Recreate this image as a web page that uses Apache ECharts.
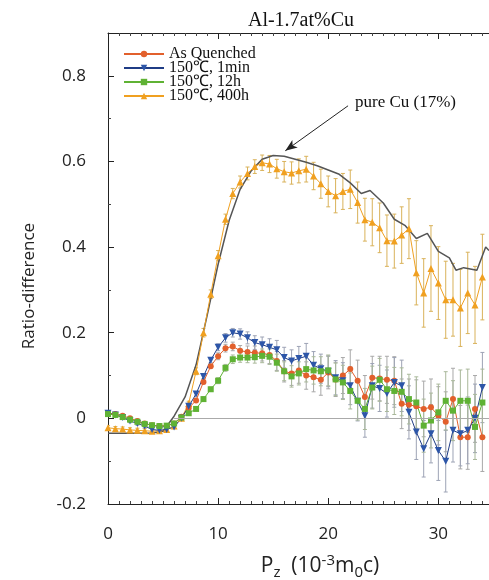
<!DOCTYPE html>
<html>
<head>
<meta charset="utf-8">
<script src="https://cdn.jsdelivr.net/npm/echarts@6/dist/echarts.min.js"></script>
<style>
  html, body { margin: 0; padding: 0; background: #fff; }
  #chart { width: 489px; height: 580px; }
</style>
</head>
<body>
<div id="chart"></div>
<script>
// momentum axis, 10^-3 m0c
var pz = [0, 0.67, 1.33, 2, 2.67, 3.33, 4, 4.67, 5.33, 6, 6.67, 7.33, 8, 8.67, 9.33, 10,
  10.67, 11.33, 12, 12.67, 13.33, 14, 14.67, 15.33, 16, 16.67, 17.33, 18, 18.67, 19.33, 20,
  20.67, 21.33, 22, 22.67, 23.33, 24, 24.67, 25.33, 26, 26.67, 27.33, 28, 28.67, 29.33, 30,
  30.67, 31.33, 32, 32.67, 33.33, 34];

var asQuenched = [0.012, 0.01, 0.006, 0, -0.006, -0.012, -0.016, -0.018, -0.018, -0.012, 0.004,
  0.024, 0.042, 0.085, 0.122, 0.145, 0.164, 0.168, 0.158, 0.155, 0.153, 0.152, 0.148, 0.134,
  0.11, 0.105, 0.112, 0.1, 0.096, 0.09, 0.107, 0.091, 0.1, 0.115, 0.088, 0.05, 0.095, 0.093,
  0.09, 0.088, 0.034, 0.032, 0.028, 0.022, 0.026, 0.006, -0.008, 0.045, -0.044, -0.044, 0.022, -0.044];
var asQuenchedErr = [0.004, 0.004, 0.004, 0.004, 0.004, 0.004, 0.004, 0.004, 0.004, 0.004, 0.004,
  0.004, 0.004, 0.004, 0.004, 0.008, 0.009, 0.01, 0.012, 0.014, 0.016, 0.018, 0.02, 0.022,
  0.025, 0.028, 0.03, 0.032, 0.034, 0.036, 0.038, 0.04, 0.042, 0.045, 0.048, 0.05, 0.05, 0.052,
  0.055, 0.056, 0.058, 0.06, 0.062, 0.065, 0.066, 0.068, 0.07, 0.072, 0.074, 0.075, 0.078, 0.08];

var min1 = [0.012, 0.008, 0.002, -0.006, -0.012, -0.018, -0.026, -0.028, -0.026, -0.02, 0,
  0.028, 0.057, 0.098, 0.136, 0.166, 0.188, 0.2, 0.197, 0.188, 0.177, 0.172, 0.166, 0.16,
  0.142, 0.134, 0.14, 0.145, 0.124, 0.116, 0.11, 0.095, 0.088, 0.076, 0.04, 0.006, 0.076, 0.07,
  0.058, 0.084, 0.076, 0.014, -0.032, -0.071, -0.036, -0.075, -0.1, -0.028, -0.036, -0.028, 0, 0.072];
var min1Err = [0.004, 0.004, 0.004, 0.004, 0.004, 0.004, 0.004, 0.004, 0.004, 0.004, 0.004,
  0.004, 0.005, 0.005, 0.006, 0.008, 0.01, 0.01, 0.012, 0.014, 0.016, 0.018, 0.02, 0.022,
  0.024, 0.026, 0.028, 0.03, 0.032, 0.034, 0.036, 0.04, 0.042, 0.044, 0.046, 0.05, 0.052, 0.054,
  0.055, 0.058, 0.06, 0.062, 0.064, 0.066, 0.068, 0.07, 0.072, 0.074, 0.075, 0.078, 0.08, 0.082];

var h12 = [0.01, 0.008, 0.003, -0.003, -0.008, -0.013, -0.016, -0.018, -0.017, -0.012, 0.002,
  0.012, 0.022, 0.045, 0.068, 0.088, 0.118, 0.138, 0.142, 0.142, 0.143, 0.146, 0.144, 0.13,
  0.11, 0.098, 0.105, 0.115, 0.112, 0.11, 0.112, 0.091, 0.084, 0.064, 0.041, 0.022, 0.072, 0.09,
  0.068, 0.064, 0.062, 0.045, 0.037, -0.017, -0.005, 0.014, 0.041, 0.018, 0.041, 0.041, -0.02, 0.037];
var h12Err = [0.004, 0.004, 0.004, 0.004, 0.004, 0.004, 0.004, 0.004, 0.004, 0.004, 0.004,
  0.004, 0.004, 0.005, 0.005, 0.007, 0.008, 0.01, 0.011, 0.012, 0.014, 0.016, 0.018, 0.02,
  0.022, 0.025, 0.027, 0.03, 0.032, 0.034, 0.036, 0.038, 0.04, 0.042, 0.045, 0.048, 0.05, 0.05,
  0.052, 0.055, 0.056, 0.058, 0.06, 0.062, 0.064, 0.066, 0.068, 0.07, 0.072, 0.074, 0.076, 0.078];

var h400 = [-0.022, -0.024, -0.025, -0.027, -0.028, -0.029, -0.03, -0.029, -0.026, -0.018, 0,
  0.035, 0.11, 0.2, 0.29, 0.38, 0.465, 0.525, 0.552, 0.572, 0.588, 0.597, 0.594, 0.583,
  0.576, 0.573, 0.578, 0.582, 0.566, 0.548, 0.53, 0.52, 0.53, 0.535, 0.504, 0.464, 0.458, 0.445,
  0.415, 0.414, 0.428, 0.443, 0.34, 0.293, 0.35, 0.316, 0.277, 0.277, 0.258, 0.293, 0.265, 0.33];
var h400Err = [0.005, 0.005, 0.005, 0.005, 0.005, 0.005, 0.005, 0.005, 0.005, 0.005, 0.005,
  0.005, 0.008, 0.01, 0.01, 0.012, 0.012, 0.012, 0.014, 0.015, 0.016, 0.018, 0.02, 0.022,
  0.024, 0.026, 0.028, 0.03, 0.032, 0.034, 0.036, 0.04, 0.042, 0.045, 0.048, 0.05, 0.055, 0.058,
  0.06, 0.063, 0.066, 0.07, 0.075, 0.08, 0.1, 0.085, 0.09, 0.085, 0.09, 0.095, 0.09, 0.1];

// pure Cu reference curve (no markers)
var pureCuX = [0, 2, 4, 5, 6, 7, 8, 9, 10, 11, 12, 13, 14, 15, 16, 17, 18, 19, 20, 21, 22, 23,
  23.8, 25, 26, 27, 28, 29, 30, 31, 31.6, 32.3, 33.5, 34.3, 34.6];
var pureCu = [-0.035, -0.035, -0.034, -0.03, 0.005, 0.05, 0.125, 0.24, 0.36, 0.462, 0.535, 0.578,
  0.605, 0.614, 0.612, 0.605, 0.598, 0.59, 0.58, 0.57, 0.55, 0.525, 0.532, 0.503, 0.465, 0.45,
  0.42, 0.432, 0.39, 0.375, 0.346, 0.352, 0.346, 0.4, 0.392];

var yTicks = [-0.2, 0, 0.2, 0.4, 0.6, 0.8];

function pairs(xs, ys) {
  return xs.map(function (x, i) { return [x, ys[i]]; });
}
function bars(xs, ys, es) {
  return xs.map(function (x, i) { return [x, ys[i] - es[i], ys[i] + es[i]]; });
}

function errRender(params, api) {
  var x = api.value(0);
  var lo = api.coord([x, api.value(1)]);
  var hi = api.coord([x, api.value(2)]);
  var w = 2;
  var st = { stroke: api.visual('color'), lineWidth: 1 };
  return {
    type: 'group',
    children: [
      { type: 'line', shape: { x1: lo[0], y1: lo[1], x2: hi[0], y2: hi[1] }, style: st },
      { type: 'line', shape: { x1: lo[0] - w, y1: lo[1], x2: lo[0] + w, y2: lo[1] }, style: st },
      { type: 'line', shape: { x1: hi[0] - w, y1: hi[1], x2: hi[0] + w, y2: hi[1] }, style: st }
    ]
  };
}

function errSeries(data, color) {
  return {
    type: 'custom',
    renderItem: errRender,
    data: data,
    encode: { x: 0, y: [1, 2] },
    itemStyle: { color: color },
    clip: true,
    silent: true,
    z: 1
  };
}

function dataSeries(name, ys, color, lineColor, symbol, size, rot) {
  return {
    name: name,
    type: 'line',
    data: pairs(pz, ys),
    symbol: symbol,
    symbolSize: size,
    symbolRotate: rot || 0,
    showAllSymbol: true,
    itemStyle: { color: color },
    lineStyle: { color: lineColor, width: 1 },
    clip: true,
    z: 3
  };
}

var chart = echarts.init(document.getElementById('chart'));

var axisCommon = {
  type: 'value',
  axisLine: { show: true, onZero: false, lineStyle: { color: '#222', width: 1 } },
  axisTick: { show: true, inside: true, length: 6, lineStyle: { color: '#222' } },
  minorTick: { show: true, length: 3, lineStyle: { color: '#444' } },
  splitLine: { show: false }
};

chart.setOption({
  animation: false,
  backgroundColor: '#fff',
  grid: { left: 108, right: 0, top: 33, bottom: 76 },
  legend: {
    data: ['As Quenched', '150\u2103, 1min', '150\u2103, 12h', '150\u2103, 400h'],
    orient: 'vertical',
    left: 118,
    top: 41,
    itemWidth: 40,
    itemHeight: 8,
    itemGap: -2,
    textStyle: { fontFamily: 'Liberation Serif, serif', fontSize: 16, color: '#111', lineHeight: 14 }
  },
  xAxis: [
    Object.assign({}, axisCommon, {
      min: 0, max: 34.6, interval: 10,
      minorTick: { show: true, splitNumber: 10, length: 3, lineStyle: { color: '#444' } },
      axisLabel: {
        margin: 22, fontFamily: 'Open Sans', fontSize: 17, color: '#222',
        showMaxLabel: false
      }
    }),
    Object.assign({}, axisCommon, {
      position: 'top',
      min: 0, max: 34.6, interval: 10,
      minorTick: { show: true, splitNumber: 10, length: 3, lineStyle: { color: '#444' } },
      axisLabel: { show: false }
    })
  ],
  yAxis: Object.assign({}, axisCommon, {
    min: yTicks[0], max: 0.9, interval: 0.2,
    minorTick: { show: true, splitNumber: 2, length: 3, lineStyle: { color: '#444' } },
    axisLabel: {
      margin: 22, fontFamily: 'Open Sans', fontSize: 17, color: '#222',
      showMaxLabel: false,
      formatter: function (v) { return Math.abs(v) < 1e-9 ? '0' : v.toFixed(1); }
    }
  }),
  graphic: [
    {
      type: 'text', x: 301, y: 21,
      style: { text: 'Al-1.7at%Cu', font: '20px "Liberation Serif", serif', fill: '#111',
        align: 'center', verticalAlign: 'middle' }
    },
    {
      type: 'text', x: 355, y: 103,
      style: { text: 'pure Cu (17%)', font: '17px "Liberation Serif", serif', fill: '#111',
        align: 'left', verticalAlign: 'middle' }
    },
    {
      type: 'text', x: 29, y: 286, rotation: Math.PI / 2,
      style: { text: 'Ratio-difference', font: '17px "Open Sans"', fill: '#222',
        align: 'center', verticalAlign: 'middle' }
    },
    {
      type: 'text', x: 320, y: 566,
      style: {
        text: '{n|P}{s|z}{n|  (10}{p|-3}{n|m}{s|0}{n|c)}',
        align: 'center', verticalAlign: 'middle',
        rich: {
          n: { font: '21px "Open Sans"', fill: '#222' },
          s: { font: '15px "Open Sans"', fill: '#222', padding: [13, 0, 0, 0] },
          p: { font: '15px "Open Sans"', fill: '#222', padding: [0, 0, 11, 0] }
        }
      }
    }
  ],
  series: [
    {
      name: 'pure Cu',
      type: 'line',
      data: pairs(pureCuX, pureCu),
      symbol: 'none',
      lineStyle: { color: '#555', width: 1.5 },
      z: 2,
      markLine: {
        silent: true,
        symbol: ['none', 'none'],
        lineStyle: { color: '#aaa', width: 1.2, type: 'solid' },
        label: { show: false },
        data: [[{ coord: [6, 0] }, { coord: [34.6, 0] }]]
      }
    },
    {
      name: 'arrow',
      type: 'line',
      data: [],
      markLine: {
        silent: true,
        symbol: ['none', 'arrow'],
        symbolSize: [7, 12],
        lineStyle: { color: '#222', width: 1, type: 'solid' },
        label: { show: false },
        data: [[{ coord: [21.8, 0.73] }, { coord: [16.1, 0.625] }]]
      }
    },
    errSeries(bars(pz, h400, h400Err), '#d9b25a'),
    errSeries(bars(pz, asQuenched, asQuenchedErr), '#a8a8a8'),
    errSeries(bars(pz, min1, min1Err), '#9da3b5'),
    errSeries(bars(pz, h12, h12Err), '#a9b89a'),
    dataSeries('150\u2103, 400h', h400, '#f0a020', '#f0a020', 'triangle', 7),
    dataSeries('As Quenched', asQuenched, '#e2602c', '#e2602c', 'circle', 6),
    dataSeries('150\u2103, 1min', min1, '#2d56a8', '#1f3c85', 'triangle', 7, 180),
    dataSeries('150\u2103, 12h', h12, '#5fb234', '#5fb234', 'rect', 6)
  ]
});
</script>
</body>
</html>
